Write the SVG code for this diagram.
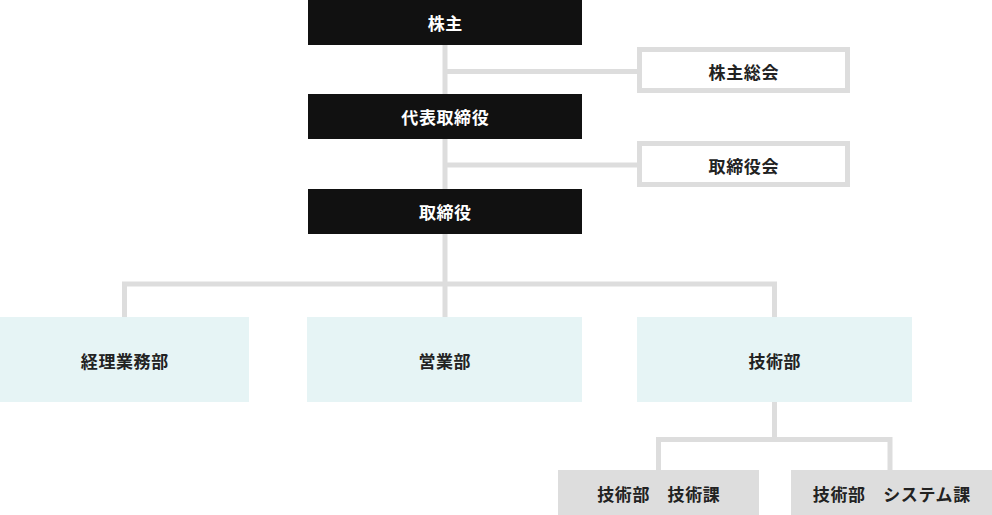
<svg xmlns="http://www.w3.org/2000/svg" width="992" height="515" viewBox="0 0 992 515">
<style>
text{font-family:"Noto Sans CJK JP","Noto Sans",sans-serif;font-size:17px;font-weight:bold;text-anchor:middle;dominant-baseline:central;letter-spacing:0.6px}
.blk rect{fill:#111}
.blk text{fill:#fff}
.out rect{fill:#fff;stroke:#ddd;stroke-width:5}
.dept rect{fill:#e6f4f5}
.sec rect{fill:#ddd}
.out text,.dept text,.sec text{fill:#222}
.conn{fill:none;stroke:#ddd;stroke-width:5}
</style>
<g id="connectors" class="conn">
<path d="M445 45V317"/>
<path d="M445 71.5H640"/>
<path d="M445 165H640"/>
<path d="M124.5 317V284H774.5V317"/>
<path d="M774.5 402V439.5"/>
<path d="M658.5 470V439.5H890V470"/>
</g>
<g id="n-kabunushi" class="blk"><rect x="308" y="0" width="274" height="45"/><text x="445.3" y="22">株主</text></g>
<g id="n-soukai" class="out"><rect x="639.5" y="49.5" width="208" height="41"/><text x="743.8" y="71">株主総会</text></g>
<g id="n-daihyo" class="blk"><rect x="308" y="94" width="274" height="45"/><text x="445.3" y="116">代表取締役</text></g>
<g id="n-torishimariyakukai" class="out"><rect x="639.5" y="143.5" width="208" height="41"/><text x="743.8" y="165">取締役会</text></g>
<g id="n-torishimariyaku" class="blk"><rect x="308" y="189" width="274" height="45"/><text x="445.3" y="211">取締役</text></g>
<g id="n-keiri" class="dept"><rect x="0" y="317" width="249" height="85"/><text x="124.8" y="360">経理業務部</text></g>
<g id="n-eigyo" class="dept"><rect x="307" y="317" width="275" height="85"/><text x="444.8" y="360">営業部</text></g>
<g id="n-gijutsu" class="dept"><rect x="637" y="317" width="275" height="85"/><text x="774.8" y="360">技術部</text></g>
<g id="n-gijutsuka" class="sec"><rect x="558" y="470" width="201" height="45"/><text x="658.8" y="493">技術部　技術課</text></g>
<g id="n-system" class="sec"><rect x="791" y="470" width="201" height="45"/><text x="891.8" y="493">技術部　システム課</text></g>
</svg>
